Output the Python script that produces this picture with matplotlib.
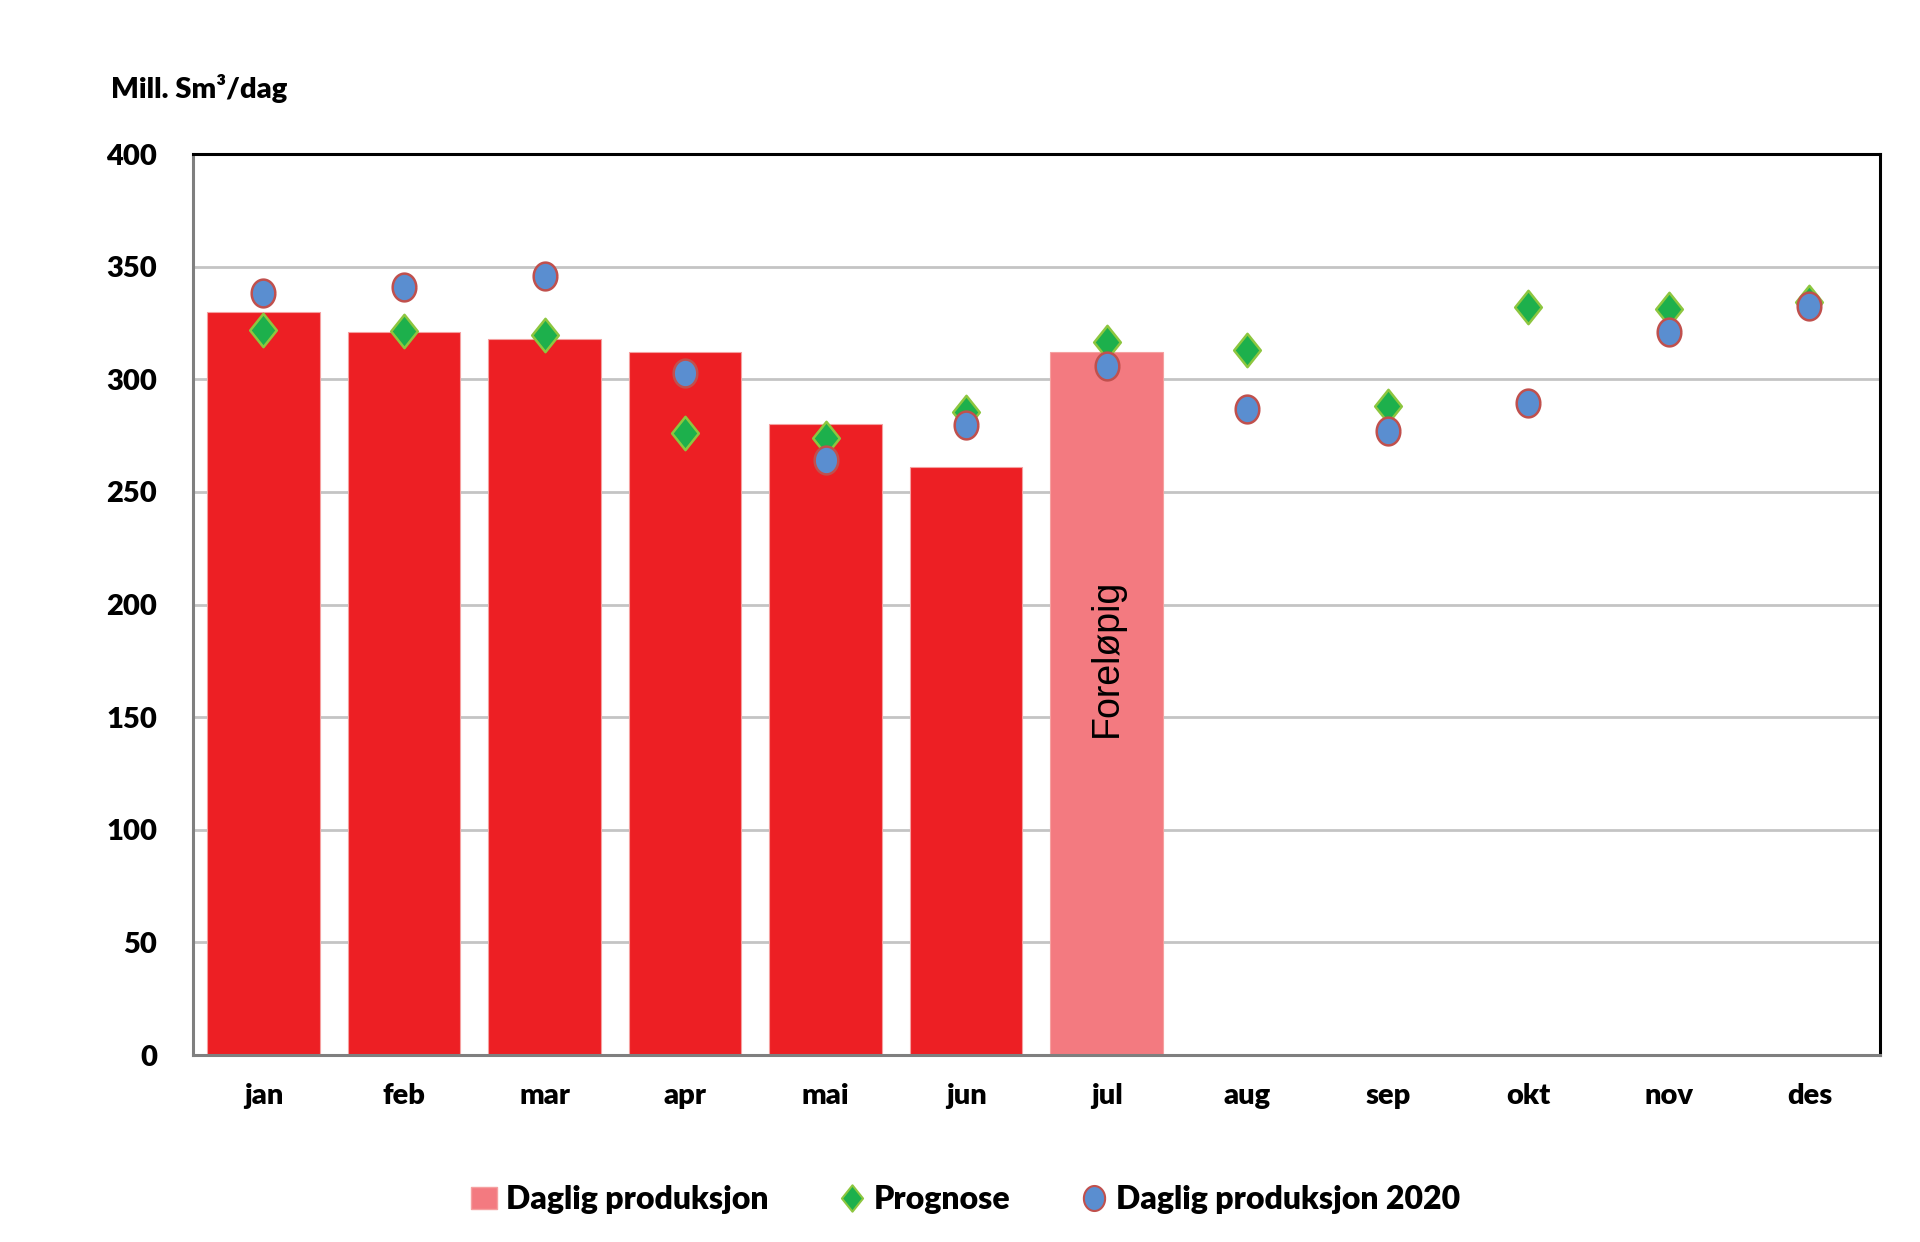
import matplotlib
matplotlib.use("Agg")
import matplotlib.pyplot as plt
import numpy as np
from matplotlib.path import Path
from matplotlib.patches import Patch
from matplotlib.lines import Line2D

months = ["jan", "feb", "mar", "apr", "mai", "jun", "jul", "aug", "sep", "okt", "nov", "des"]
daglig = [330, 321, 318, 312, 280, 261, 312]
prognose = [322, 321.5, 319.5, 276, 274, 285.5, 316.5, 313, 288, 332, 331, 334.5]
daglig_2020 = [338.5, 341, 346, 303, 264, 279.5, 306, 287, 277, 289.5, 321, 332.5]
yticks = [0, 50, 100, 150, 200, 250, 300, 350, 400]

RED = "#ED1F24"
PINK = "#F37A80"
GREEN = "#1DB04C"
GREEN_EDGE = "#8DC63F"
BLUE = "#5A8ED0"
BLUE_EDGE = "#C0504D"
W = "heavy"

plt.rcParams['font.family'] = ['Lato', 'DejaVu Sans']
plt.rcParams['font.weight'] = W

fig = plt.figure(figsize=(19.2, 12.42), dpi=100)
ax = fig.add_axes([0.1006, 0.1505, 0.8784, 0.7255])

x = np.arange(len(months))
bar_colors = [RED] * 6 + [PINK]
ax.bar(x[:len(daglig)], daglig, width=0.8, color=bar_colors, edgecolor="#F5A0A0",
       linewidth=0.8, zorder=2)

# custom markers
diamond = Path([(0, 1), (0.8, 0), (0, -1), (-0.8, 0), (0, 1)],
               [Path.MOVETO, Path.LINETO, Path.LINETO, Path.LINETO, Path.CLOSEPOLY])
t = np.linspace(0, 2 * np.pi, 60)
ellipse = Path(np.column_stack([0.85 * np.cos(t), np.sin(t)]))

ax.plot(x, prognose, linestyle="none", marker=diamond, markersize=24,
        markerfacecolor=GREEN, markeredgecolor=GREEN_EDGE, markeredgewidth=1.8, zorder=3)
ax.plot(x, daglig_2020, linestyle="none", marker=ellipse, markersize=20,
        markerfacecolor=BLUE, markeredgecolor=BLUE_EDGE, markeredgewidth=1.8, zorder=4)

ax.text(6, 176.5, "Foreløpig", rotation=90, ha="center", va="center",
        fontsize=27, fontweight="normal", family=["Liberation Sans", "DejaVu Sans"],
        color="black", zorder=5)

ax.set_xlim(-0.5, len(months) - 0.5)
ax.set_ylim(0, 400)
ax.set_yticks(yticks)
ax.set_yticklabels([str(v) for v in yticks])
ax.set_xticks(x)
ax.set_xticklabels(months)
ax.tick_params(axis="both", length=0, labelsize=21)
ax.tick_params(axis="y", pad=26)
ax.tick_params(axis="x", pad=20)
for lab in ax.get_xticklabels() + ax.get_yticklabels():
    lab.set_fontweight(W)

ax.yaxis.grid(True, color="#C4C4C4", linewidth=2, zorder=0)
ax.set_axisbelow(True)

ax.spines["left"].set_color("#7F7F7F")
ax.spines["bottom"].set_color("#7F7F7F")
ax.spines["top"].set_color("black")
ax.spines["right"].set_color("black")
for s in ax.spines.values():
    s.set_linewidth(2.2)

fig.text(0.058, 0.929, "Mill. Sm³/dag", fontsize=21, fontweight=W,
         ha="left", va="center")

handles = [
    Patch(facecolor=PINK, edgecolor="#F5A0A0", label="Daglig produksjon"),
    Line2D([], [], linestyle="none", marker=diamond, markersize=19, markerfacecolor=GREEN,
           markeredgecolor=GREEN_EDGE, markeredgewidth=1.5, label="Prognose"),
    Line2D([], [], linestyle="none", marker=ellipse, markersize=18, markerfacecolor=BLUE,
           markeredgecolor=BLUE_EDGE, markeredgewidth=1.5, label="Daglig produksjon 2020"),
]
leg = fig.legend(handles=handles, loc="center", bbox_to_anchor=(0.503, 0.034), ncol=3,
                 frameon=False, handlelength=0.8, handletextpad=0.3,
                 columnspacing=2.2, prop={"weight": W, "size": 23})

fig.savefig("out.png", dpi=100)
